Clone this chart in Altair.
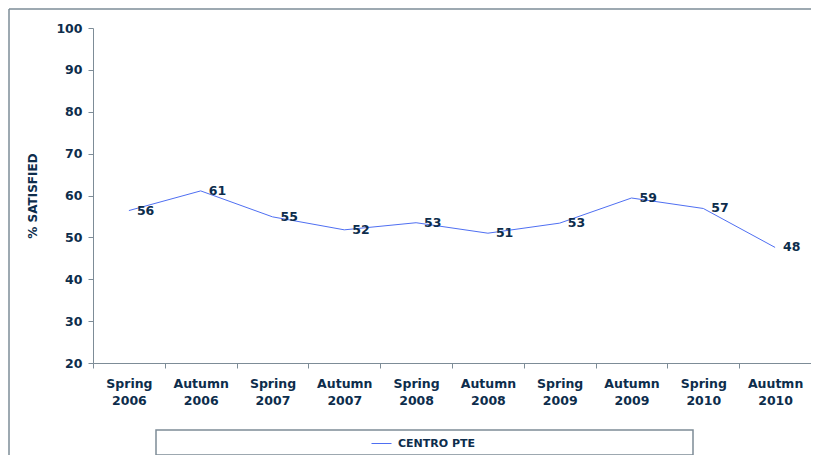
import altair as alt
import pandas as pd

periods = ["Spring 2006", "Autumn 2006", "Spring 2007", "Autumn 2007", "Spring 2008",
           "Autumn 2008", "Spring 2009", "Autumn 2009", "Spring 2010", "Auutmn 2010"]
values = [56.4, 61.1, 54.9, 51.8, 53.5, 51.0, 53.4, 59.4, 56.9, 47.6]
labels = ["56", "61", "55", "52", "53", "51", "53", "59", "57", "48"]
series = "CENTRO PTE"
y_ticks = [20, 30, 40, 50, 60, 70, 80, 90, 100]

TXT = "#0d2d4c"
LINE = "#4f6ff2"
GRAY = "#7d8c97"
FONT = "DejaVu Sans"

df = pd.DataFrame({"period": periods, "value": values, "label": labels, "series": series})

W, H = 718, 335

x = alt.X("period:N", sort=periods, title=None,
          scale=alt.Scale(paddingInner=0, paddingOuter=0),
          axis=alt.Axis(labelAngle=0, labelExpr="split(datum.label, ' ')",
                        labelFont=FONT, labelFontWeight="bold", labelFontSize=12.5,
                        labelColor=TXT, labelLineHeight=17, labelPadding=9,
                        tickBand="extent", tickSize=5, tickColor=GRAY,
                        domainColor=GRAY, grid=False))
y = alt.Y("value:Q", title="% SATISFIED",
          scale=alt.Scale(domain=[20, 100], nice=False, zero=False),
          axis=alt.Axis(values=y_ticks, labelFont=FONT, labelFontWeight="bold",
                        labelFontSize=12.5, labelColor=TXT, labelPadding=6,
                        tickSize=5, tickColor=GRAY, domainColor=GRAY, grid=False,
                        titleFont=FONT, titleFontWeight="bold", titleFontSize=12,
                        titleColor=TXT, titlePadding=16))

base = alt.Chart(df)

line = base.mark_line(strokeWidth=1).encode(
    x=x, y=y,
    color=alt.Color("series:N",
                    scale=alt.Scale(domain=[series], range=[LINE]),
                    legend=alt.Legend(orient="none", legendX=278, legendY=405,
                                      title=None, symbolType="stroke",
                                      symbolSize=400, symbolStrokeWidth=1,
                                      labelFont=FONT, labelFontWeight="bold",
                                      labelFontSize=11, labelColor=TXT, labelOffset=6)))

text = base.mark_text(align="left", baseline="middle", dx=8, font=FONT,
                      fontWeight="bold", fontSize=12.5, color=TXT).encode(
    x=x, y=y, text="label:N")

deco = alt.Chart(alt.Data(values=[{}]))
legend_box = deco.mark_rect(fill="white", stroke=GRAY, strokeWidth=1.5).encode(
    x=alt.value(63), x2=alt.value(600), y=alt.value(402), y2=alt.value(427))
border_left = deco.mark_rule(stroke=GRAY, strokeWidth=1.5).encode(
    x=alt.value(-84), y=alt.value(-19), y2=alt.value(600))
border_top = deco.mark_rule(stroke=GRAY, strokeWidth=1.5).encode(
    x=alt.value(-84), x2=alt.value(718), y=alt.value(-19))

chart = alt.layer(border_left, border_top, legend_box, line, text).properties(
    width=W, height=H,
    background="white",
    autosize=alt.AutoSizeParams(type="none"),
    padding={"left": 85, "top": 20, "right": 0, "bottom": 92},
).configure_view(strokeWidth=0, stroke="transparent")

chart.save("out.html", embed_options={"renderer": "svg", "actions": False})
